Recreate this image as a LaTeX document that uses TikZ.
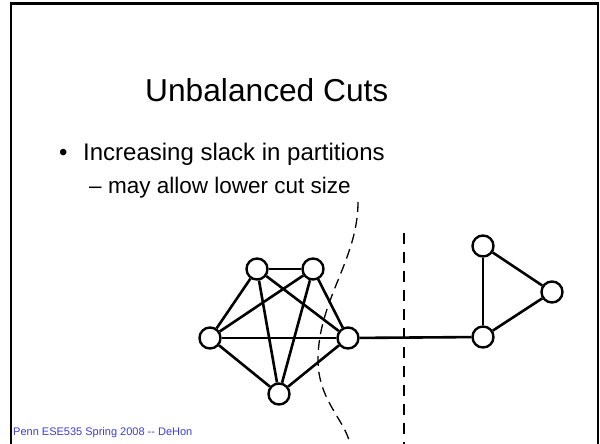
\documentclass[tikz,border=0pt]{standalone}
\usepackage{fontspec}
\setmainfont{Liberation Sans}
\usetikzlibrary{positioning, calc}
\definecolor{footblue1}{RGB}{60, 60, 210}
\tikzset{
  vtx/.style={circle, draw, line width=2.4pt, fill=white, minimum size=21pt, inner sep=0pt},
  edge/.style={line width=2.6pt},
  cutline/.style={line width=1.3pt, dash pattern=on 10pt off 6pt},
}

\begin{document}
\begin{tikzpicture}[x=1pt, y=-1pt]
  \useasboundingbox (0,0) rectangle (600,444);
  % slide frame, open at the bottom
  \draw[line width=2.5pt] (11,444) -- (11,3.5) -- (598,3.5) -- (598,444);

  % title and bullets
  \node[anchor=base west, inner sep=0pt, font=\fontsize{31.7}{38}\selectfont] (title) at (145,102) {Unbalanced Cuts};
  \node[anchor=base west, inner sep=0pt, font=\fontsize{24}{29}\selectfont] (dot1) at (59,160) {•};
  \node[anchor=base west, inner sep=0pt, font=\fontsize{24}{29}\selectfont] (item1) at (83,160) {Increasing slack in partitions};
  \node[anchor=base west, inner sep=0pt, font=\fontsize{22.5}{27}\selectfont] (dash1) at (89,193) {–};
  \node[anchor=base west, inner sep=0pt, font=\fontsize{22.5}{27}\selectfont] (item2) at (108,193) {may allow lower cut size};

  % footer
  \node[anchor=base west, inner sep=0pt, text=footblue1, font=\fontsize{11}{13}\selectfont] (foot) at (13,435) {Penn ESE535 Spring 2008 -{}- DeHon};

  % the two cuts
  \draw[cutline] (358,202) .. controls (358,260) and (318,300) .. (318,360)
                 .. controls (318,400) and (345,420) .. (350,444);
  \draw[cutline, dash pattern=on 11pt off 8pt] (404,233) -- (404,444);

  % clique of five
  \node[vtx] (a) at (257,269) {};
  \node[vtx] (b) at (313,269) {};
  \node[vtx] (c) at (210,338) {};
  \node[vtx] (d) at (348,338) {};
  \node[vtx] (e) at (279,394) {};
  % triangle
  \node[vtx] (h) at (483,246) {};
  \node[vtx] (g) at (552,292) {};
  \node[vtx] (f) at (483,337) {};

  \draw[edge] (a) -- (b);
  \draw[edge] (a) -- (c);
  \draw[edge] (a) -- (d);
  \draw[edge] (a) -- (e);
  \draw[edge] (b) -- (c);
  \draw[edge] (b) -- (d);
  \draw[edge] (b) -- (e);
  \draw[edge] (c) -- (d);
  \draw[edge] (c) -- (e);
  \draw[edge] (d) -- (e);
  \draw[edge] (d) -- (f);
  \draw[edge] (f) -- (h);
  \draw[edge] (h) -- (g);
  \draw[edge] (g) -- (f);
\end{tikzpicture}
\end{document}
